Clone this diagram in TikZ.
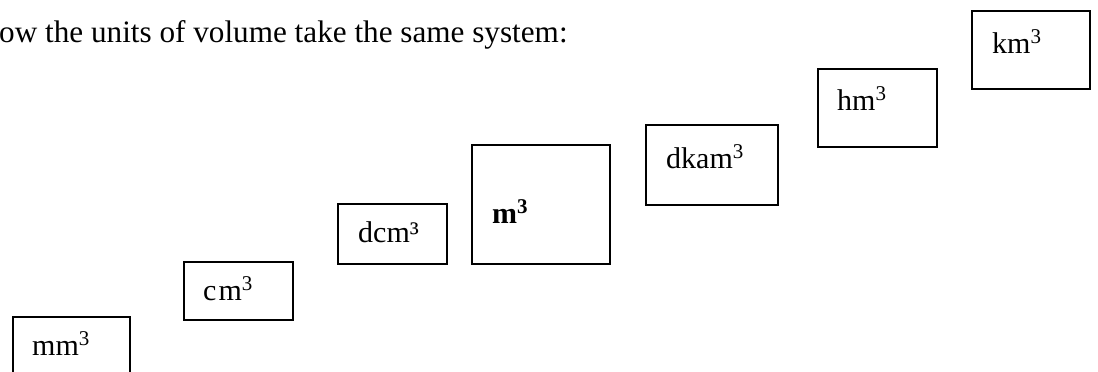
\documentclass[tikz,border=0pt]{standalone}
\usepackage{fontspec}
\setmainfont{Liberation Serif}
\begin{document}
\begin{tikzpicture}[x=1pt,y=-1pt,
  unitbox/.style={draw,line width=1.6pt,inner sep=0pt,anchor=north west},
  unitlabel/.style={anchor=base west,inner sep=0pt,font=\fontsize{30}{36}\selectfont}]
\useasboundingbox (0,0) rectangle (1098,372);
\clip (0,0) rectangle (1098,372);
% heading
\node[unitlabel,font=\fontsize{31.2}{37}\selectfont] (title) at (-1,42) {ow the units of volume take the same system:};
% boxes, from smallest unit to largest
\node[unitbox,minimum width=117pt,minimum height=70pt] (bmm) at (12,316) {};
\node[unitbox,minimum width=109pt,minimum height=58pt] (bcm) at (183,261) {};
\node[unitbox,minimum width=109pt,minimum height=60pt] (bdcm) at (337,203) {};
\node[unitbox,minimum width=138pt,minimum height=119pt] (bm) at (471,144) {};
\node[unitbox,minimum width=132pt,minimum height=80pt] (bdkam) at (645,124) {};
\node[unitbox,minimum width=119pt,minimum height=78pt] (bhm) at (817,68) {};
\node[unitbox,minimum width=118pt,minimum height=78pt] (bkm) at (971,10) {};
% labels
\node[unitlabel] (lmm) at ([xshift=20pt,yshift=-39pt]bmm.north west) {mm\textsuperscript{3}};
\node[unitlabel] (lcm) at ([xshift=20pt,yshift=-39pt]bcm.north west) {c\kern2pt m\textsuperscript{3}};
\node[unitlabel] (ldcm) at ([xshift=21pt,yshift=-39pt]bdcm.north west) {dcm³};
\node[unitlabel] (lm) at ([xshift=21pt,yshift=-79pt]bm.north west) {\textbf{m\textsuperscript{3}}};
\node[unitlabel] (ldkam) at ([xshift=21pt,yshift=-44pt]bdkam.north west) {dkam\textsuperscript{3}};
\node[unitlabel] (lhm) at ([xshift=20pt,yshift=-42pt]bhm.north west) {hm\textsuperscript{3}};
\node[unitlabel] (lkm) at ([xshift=21pt,yshift=-43pt]bkm.north west) {km\textsuperscript{3}};
\end{tikzpicture}
\end{document}
